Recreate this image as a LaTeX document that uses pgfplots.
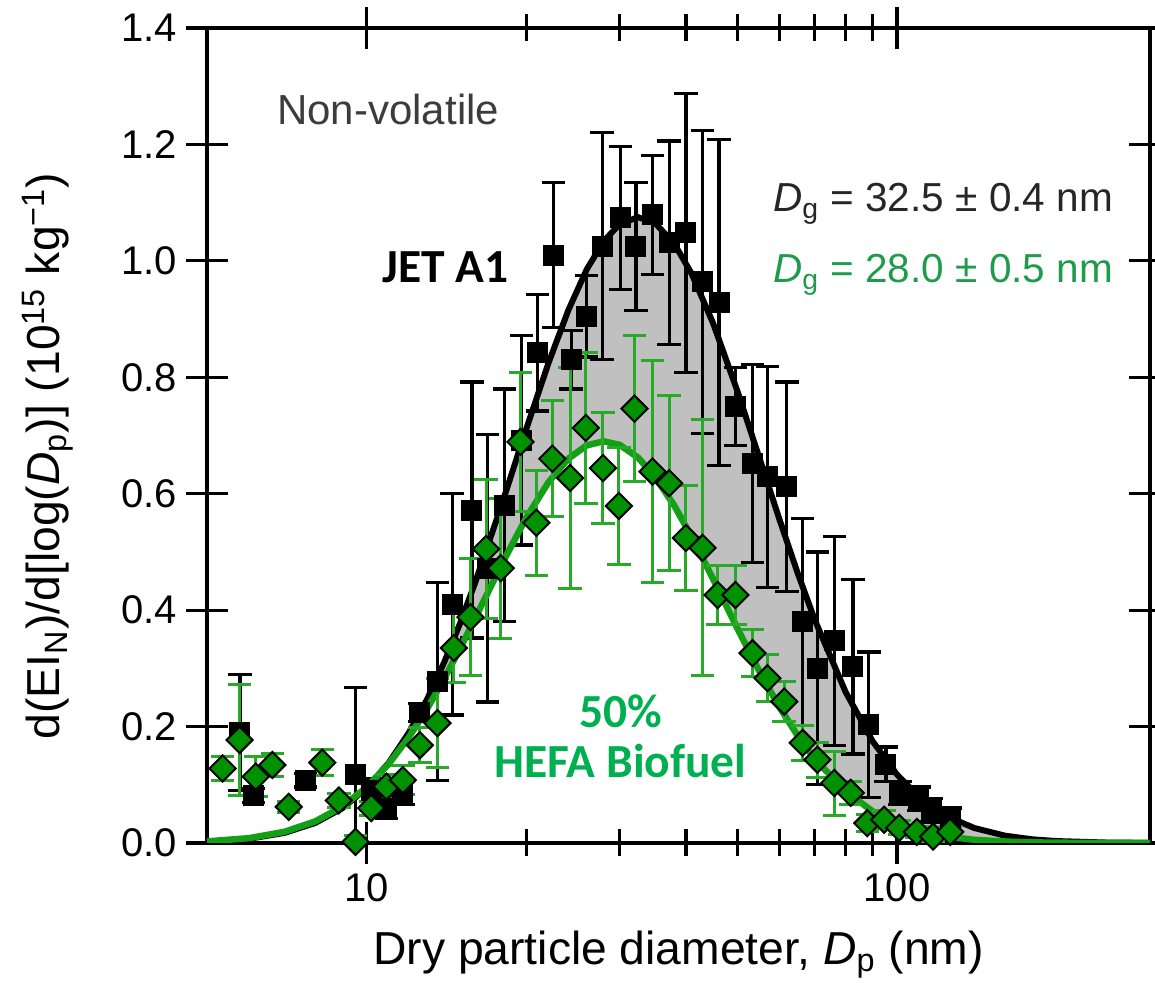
\documentclass[border=0pt]{standalone}
\usepackage{fontspec}
\setmainfont{Liberation Sans}
\newfontfamily\calibri{Carlito}
\usepackage{pgfplots}
\usepackage{pgfplotstable}
\pgfplotsset{compat=1.18}
\usepgfplotslibrary{fillbetween}

\definecolor{fitgreen}{RGB}{20,160,20}
\definecolor{bargreen}{RGB}{40,170,40}
\definecolor{diagreen}{RGB}{0,145,0}
\definecolor{dgtext}{RGB}{30,155,75}
\definecolor{hefatext}{RGB}{0,176,80}
\definecolor{fillgray}{RGB}{192,192,192}
\definecolor{nvtext}{RGB}{60,60,60}

% JET A1, non-volatile size distribution: D_p (nm), value, error
\pgfplotstableread{
d      n      e
5.77   0.190  0.100
6.12   0.082  0.012
7.67   0.108  0.012
9.53   0.117  0.150
10.2   0.091  0.020
10.9   0.060  0.018
11.7   0.086  0.020
12.6   0.224  0.015
13.6   0.277  0.170
14.5   0.410  0.190
15.8   0.572  0.220
16.9   0.472  0.230
18.2   0.580  0.200
19.6   0.692  0.180
21.0   0.842  0.100
22.5   1.010  0.125
24.3   0.830  0.050
26.0   0.905  0.070
27.8   1.025  0.195
30.1   1.074  0.123
32.2   1.025  0.110
34.6   1.079  0.102
37.2   1.031  0.175
40.0   1.048  0.240
43.0   0.964  0.260
46.2   0.928  0.280
49.6   0.750  0.067
53.4   0.652  0.170
57.0   0.629  0.190
62.0   0.612  0.180
66.4   0.380  0.178
70.8   0.300  0.200
76.2   0.347  0.180
82.6   0.303  0.150
88.5   0.203  0.125
95.3   0.135  0.030
101.3  0.086  0.020
110    0.076  0.020
116    0.056  0.020
126    0.040  0.020
}\jetdata

% 50% HEFA blend
\pgfplotstableread{
d      n      e
5.35   0.128  0.020
5.76   0.177  0.095
6.18   0.114  0.035
6.64   0.134  0.020
7.13   0.062  0.010
8.25   0.138  0.022
8.86   0.073  0.012
9.53   0.002  0.010
10.2   0.060  0.012
10.9   0.097  0.020
11.7   0.108  0.025
12.6   0.168  0.030
13.6   0.206  0.077
14.6   0.335  0.060
15.7   0.388  0.100
16.8   0.505  0.120
17.9   0.472  0.120
19.5   0.689  0.120
20.9   0.550  0.090
22.4   0.660  0.100
24.2   0.627  0.190
25.9   0.713  0.130
27.9   0.644  0.096
29.9   0.579  0.100
32.0   0.746  0.125
34.6   0.638  0.190
37.2   0.618  0.150
40.0   0.524  0.090
43.0   0.507  0.220
45.9   0.426  0.050
49.6   0.426  0.050
53.4   0.326  0.040
57.0   0.283  0.040
61.3   0.243  0.035
66.4   0.172  0.030
70.8   0.143  0.030
76.2   0.103  0.055
81.8   0.086  0.020
87.9   0.034  0.015
94.6   0.040  0.015
101    0.026  0.012
109    0.019  0.010
117    0.011  0.010
126    0.019  0.010
}\hefadata

\begin{document}
\begin{tikzpicture}
\begin{axis}[
    scale only axis,
    width=377.2pt,
    height=326pt,
    xmode=log,
    xmin=5, xmax=300,
    ymin=0, ymax=1.4,
    xtick={10,100},
    log ticks with fixed point,
    ytick={0,0.2,0.4,0.6,0.8,1.0,1.2,1.4},
    yticklabel style={/pgf/number format/.cd, fixed, fixed zerofill, precision=1},
    /pgf/number format/assume math mode=true,
    tick align=center,
    major tick length=17pt,
    minor tick length=10.8pt,
    tick style={black, line width=1.3pt},
    axis line style={line width=1.4pt},
    tick label style={font=\fontsize{16}{19}\selectfont},
    label style={font=\fontsize{18.5}{22}\selectfont},
    xlabel={Dry particle diameter, \textit{D}\textsubscript{p} (nm)},
    ylabel={d(EI\textsubscript{N})/d[log(\textit{D}\textsubscript{p})] (10\textsuperscript{15} kg\textsuperscript{−1})},
    xlabel style={at={(axis description cs:0.5,0)}, anchor=base, yshift=-48.8pt},
    ylabel style={at={(axis description cs:-0.156,0.475)}, anchor=base},
    error bars/error bar style={line width=1.3pt},
]

% fitted log-normal, JET A1 (D_g = 32.5 nm)
\addplot[black, line width=2.4pt, name path=jet] coordinates {
(5,0.0023)(6,0.0072)(7,0.0173)(8,0.0344)(9,0.0598)(10,0.0942)(11,0.1375)
(12,0.1888)(13,0.2469)(14,0.3102)(15,0.3771)(16,0.4459)(18,0.5830)(20,0.7112)
(22,0.8233)(24,0.9150)(26,0.9852)(28,1.0340)(30,1.0630)(32.5,1.0750)(35,1.0647)
(38,1.0300)(41,0.9780)(45,0.8930)(50,0.7767)(55,0.6620)(60,0.5565)(65,0.4633)
(70,0.3832)(80,0.2595)(90,0.1746)(100,0.1176)(110,0.0795)(125,0.0447)
(140,0.0256)(160,0.0125)(180,0.0063)(200,0.0033)(250,0.0007)(300,0.0002)
};

% JET A1 measurements
\addplot[black, only marks, mark=square*, mark size=4pt,
    error bars/.cd, y dir=both, y explicit,
    error mark=-,
    error mark options={black, mark size=4.7pt, line width=1.3pt, rotate=90},
    error bar style={black}]
    table[x=d, y=n, y error=e] {\jetdata};

% fitted log-normal, HEFA blend (D_g = 28.0 nm)
\addplot[fitgreen, line width=2.6pt, name path=hefa] coordinates {
(5,0.0027)(6,0.0083)(7,0.0192)(8,0.0371)(9,0.0626)(10,0.0958)(11,0.1357)
(12,0.1811)(13,0.2304)(14,0.2819)(15,0.3340)(16,0.3850)(18,0.4796)(20,0.5588)
(22,0.6191)(24,0.6601)(26,0.6830)(28,0.6900)(30,0.6839)(32.5,0.6620)(35,0.6289)
(38,0.5800)(41,0.5262)(45,0.4537)(50,0.3689)(55,0.2952)(60,0.2338)(65,0.1841)
(70,0.1444)(80,0.0886)(90,0.0544)(100,0.0337)(110,0.0211)(125,0.0107)
(140,0.0055)(160,0.0024)(180,0.0011)(200,0.0005)(250,0.0001)(300,0.0)
};

% HEFA measurements
\addplot[bargreen, only marks, mark=square*, mark size=3.7pt,
    mark options={rotate=45, fill=diagreen, draw=black, line width=0.8pt},
    error bars/.cd, y dir=both, y explicit,
    error mark=-,
    error mark options={bargreen, mark size=4.7pt, line width=1.2pt, rotate=90},
    error bar style={bargreen, line width=1.2pt}]
    table[x=d, y=n, y error=e] {\hefadata};

% shaded difference between the two fits
\addplot[fillgray, draw=none] fill between[of=jet and hefa];

\node[anchor=base west, text=nvtext, font=\fontsize{16.8}{20}\selectfont]
    at (axis cs:6.53,1.234) {Non-volatile};
\node[anchor=base west, font=\calibri\bfseries\fontsize{19}{23}\selectfont]
    at (axis cs:10.3,0.962) {JET A1};
\node[anchor=base, text=hefatext, font=\calibri\bfseries\fontsize{19}{23}\selectfont]
    at (axis cs:30.1,0.198) {50\%};
\node[anchor=base, text=hefatext, font=\calibri\bfseries\fontsize{19}{23}\selectfont]
    at (axis cs:30.1,0.112) {HEFA Biofuel};
\node[anchor=base west, text=black!85, font=\fontsize{16.2}{19}\selectfont]
    at (axis cs:56.2,1.084) {\textit{D}\textsubscript{g} = 32.5 ± 0.4 nm};
\node[anchor=base west, text=dgtext, font=\fontsize{16.2}{19}\selectfont]
    at (axis cs:56.2,0.962) {\textit{D}\textsubscript{g} = 28.0 ± 0.5 nm};

\coordinate (ll) at (rel axis cs:0,0);
\coordinate (ur) at (rel axis cs:1,1);
\end{axis}
\pgfresetboundingbox
\path[use as bounding box] ([xshift=-82.8pt,yshift=-56pt]ll) rectangle ([xshift=2pt,yshift=11.2pt]ur);
\end{tikzpicture}
\end{document}
